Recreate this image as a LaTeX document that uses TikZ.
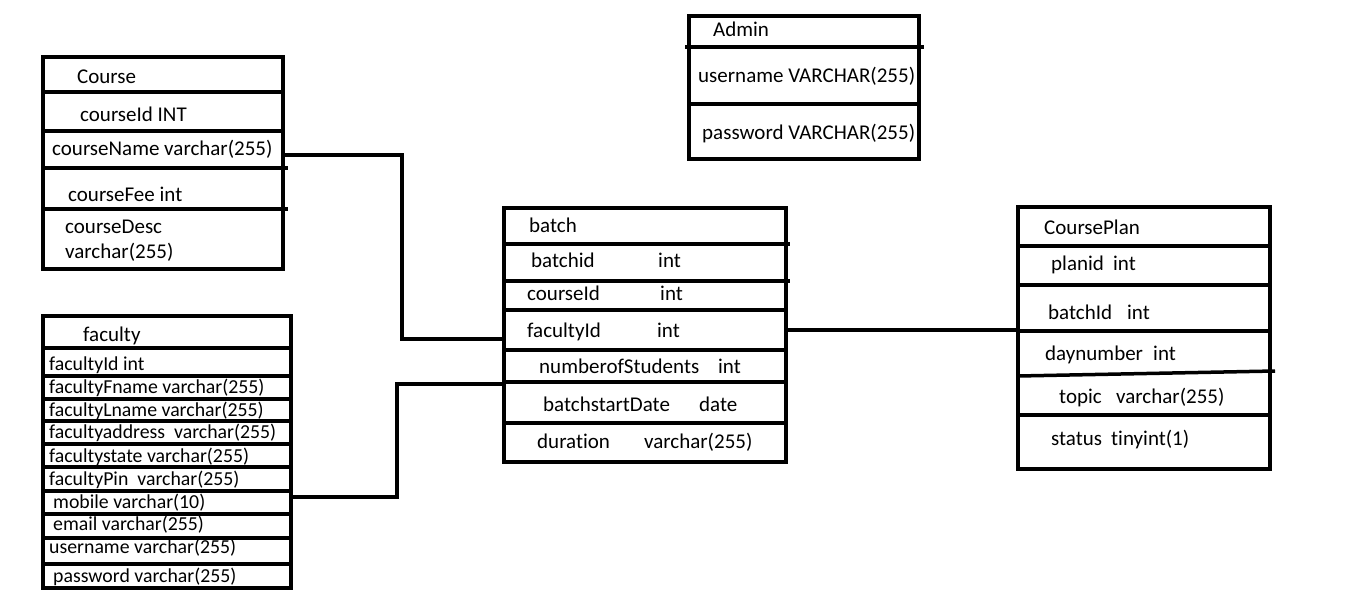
\documentclass[tikz,border=0pt]{standalone}
\usepackage{fontspec}
\setmainfont{Carlito}[Ligatures={NoCommon,NoRare,NoContextual}]
\begin{document}
\begin{tikzpicture}[x=1pt,y=-1pt,
  tbl/.style={draw, line width=4pt, anchor=north west, inner sep=0pt, outer sep=0pt},
  rowline/.style={line width=3.5pt},
  conn/.style={line width=4pt},
  txt/.style={anchor=base west, inner sep=0pt, font=\fontsize{21}{25}\selectfont},
  ftxt/.style={txt, font=\fontsize{19.8}{23}\selectfont}]
\fill[white] (0,0) rectangle (1348,604);
\useasboundingbox (0,0) rectangle (1348,604);

% ---------------- Course
\node[tbl, minimum width=240pt, minimum height=212pt] (course) at (43,57) {};
\draw[rowline] (43,92) -- (283,92);
\draw[rowline] (43,131) -- (283,131);
\draw[rowline] (43,168) -- (288,168);
\draw[rowline] (43,209) -- (288,209);
\node[txt] (cT) at (77,84) {Course};
\node[txt] (c1) at (80,122) {courseId INT};
\node[txt] (c2) at (52,156) {courseName varchar(255)};
\node[txt] (c3) at (68,201) {courseFee int};
\node[txt] (c4) at (65,233) {courseDesc};
\node[txt] (c5) at (65,258) {varchar(255)};

% ---------------- faculty
\node[tbl, minimum width=248pt, minimum height=272pt] (faculty) at (43,316) {};
\foreach \yy in {348,376,399,421,444,467,491,514,538,564}
  \draw[rowline] (43,\yy) -- (291,\yy);
\node[txt] (fT) at (83,341) {faculty};
\node[ftxt] (f1) at (49,370) {facultyId int};
\node[ftxt] (f2) at (49,393) {facultyFname varchar(255)};
\node[ftxt] (f3) at (49,416) {facultyLname varchar(255)};
\node[ftxt] (f4) at (49,438) {facultyaddress\ \ varchar(255)};
\node[ftxt] (f5) at (49,462) {facultystate varchar(255)};
\node[ftxt] (f6) at (49,485) {facultyPin\ \ varchar(255)};
\node[ftxt] (f7) at (53,508) {mobile varchar(10)};
\node[ftxt] (f8) at (53,530) {email varchar(255)};
\node[ftxt] (f9) at (49,553) {username varchar(255)};
\node[ftxt] (f10) at (53,582) {password varchar(255)};

% ---------------- batch
\node[tbl, minimum width=282pt, minimum height=254pt] (batch) at (504,208) {};
\draw[rowline] (504,244) -- (790,244);
\draw[rowline] (504,281) -- (790,281);
\foreach \yy in {310,350,382,423}
  \draw[rowline] (504,\yy) -- (786,\yy);
\node[txt] (bT) at (529,232) {batch};
\node[txt] (b1) at (531,267) {\makebox[127pt][l]{batchid}int};
\node[txt] (b2) at (527,300) {\makebox[133pt][l]{courseId}int};
\node[txt] (b3) at (527,337) {\makebox[130pt][l]{facultyId}int};
\node[txt] (b4) at (539,373) {\makebox[179pt][l]{numberofStudents}int};
\node[txt] (b5) at (543,411) {\makebox[156pt][l]{batchstartDate}date};
\node[txt] (b6) at (537,448) {\makebox[107pt][l]{duration}varchar(255)};

% ---------------- CoursePlan
\node[tbl, minimum width=252pt, minimum height=262pt] (plan) at (1018,207) {};
\draw[rowline] (1018,246) -- (1270,246);
\draw[rowline] (1018,285) -- (1270,285);
\draw[rowline] (1018,331) -- (1270,331);
\draw[rowline] (1018,376) -- (1275,371);
\draw[rowline] (1018,415) -- (1270,415);
\node[txt] (pT) at (1044,234) {CoursePlan};
\node[txt] (p1) at (1051,270) {\makebox[62pt][l]{planid}int};
\node[txt] (p2) at (1048,319) {\makebox[79pt][l]{batchId}int};
\node[txt] (p3) at (1045,360) {\makebox[108pt][l]{daynumber}int};
\node[txt] (p4) at (1059,403) {\makebox[57pt][l]{topic}varchar(255)};
\node[txt] (p5) at (1051,445) {\makebox[60pt][l]{status}tinyint(1)};

% ---------------- Admin
\node[tbl, minimum width=230pt, minimum height=143pt] (admin) at (689,16) {};
\draw[rowline] (685,47) -- (924,47);
\draw[rowline] (689,104) -- (919,104);
\node[txt] (aT) at (713,37) {Admin};
\node[txt] (a1) at (698,83) {username VARCHAR(255)};
\node[txt] (a2) at (702,140) {password VARCHAR(255)};

% ---------------- connectors
\draw[conn] (course.east |- 0,155) -| (402,339) -- (batch.west |- 0,339);
\draw[conn] (faculty.east |- 0,497) -| (397,384) -- (batch.west |- 0,384);
\draw[conn] (batch.east |- 0,330) -- (plan.west |- 0,330);
\end{tikzpicture}
\end{document}
